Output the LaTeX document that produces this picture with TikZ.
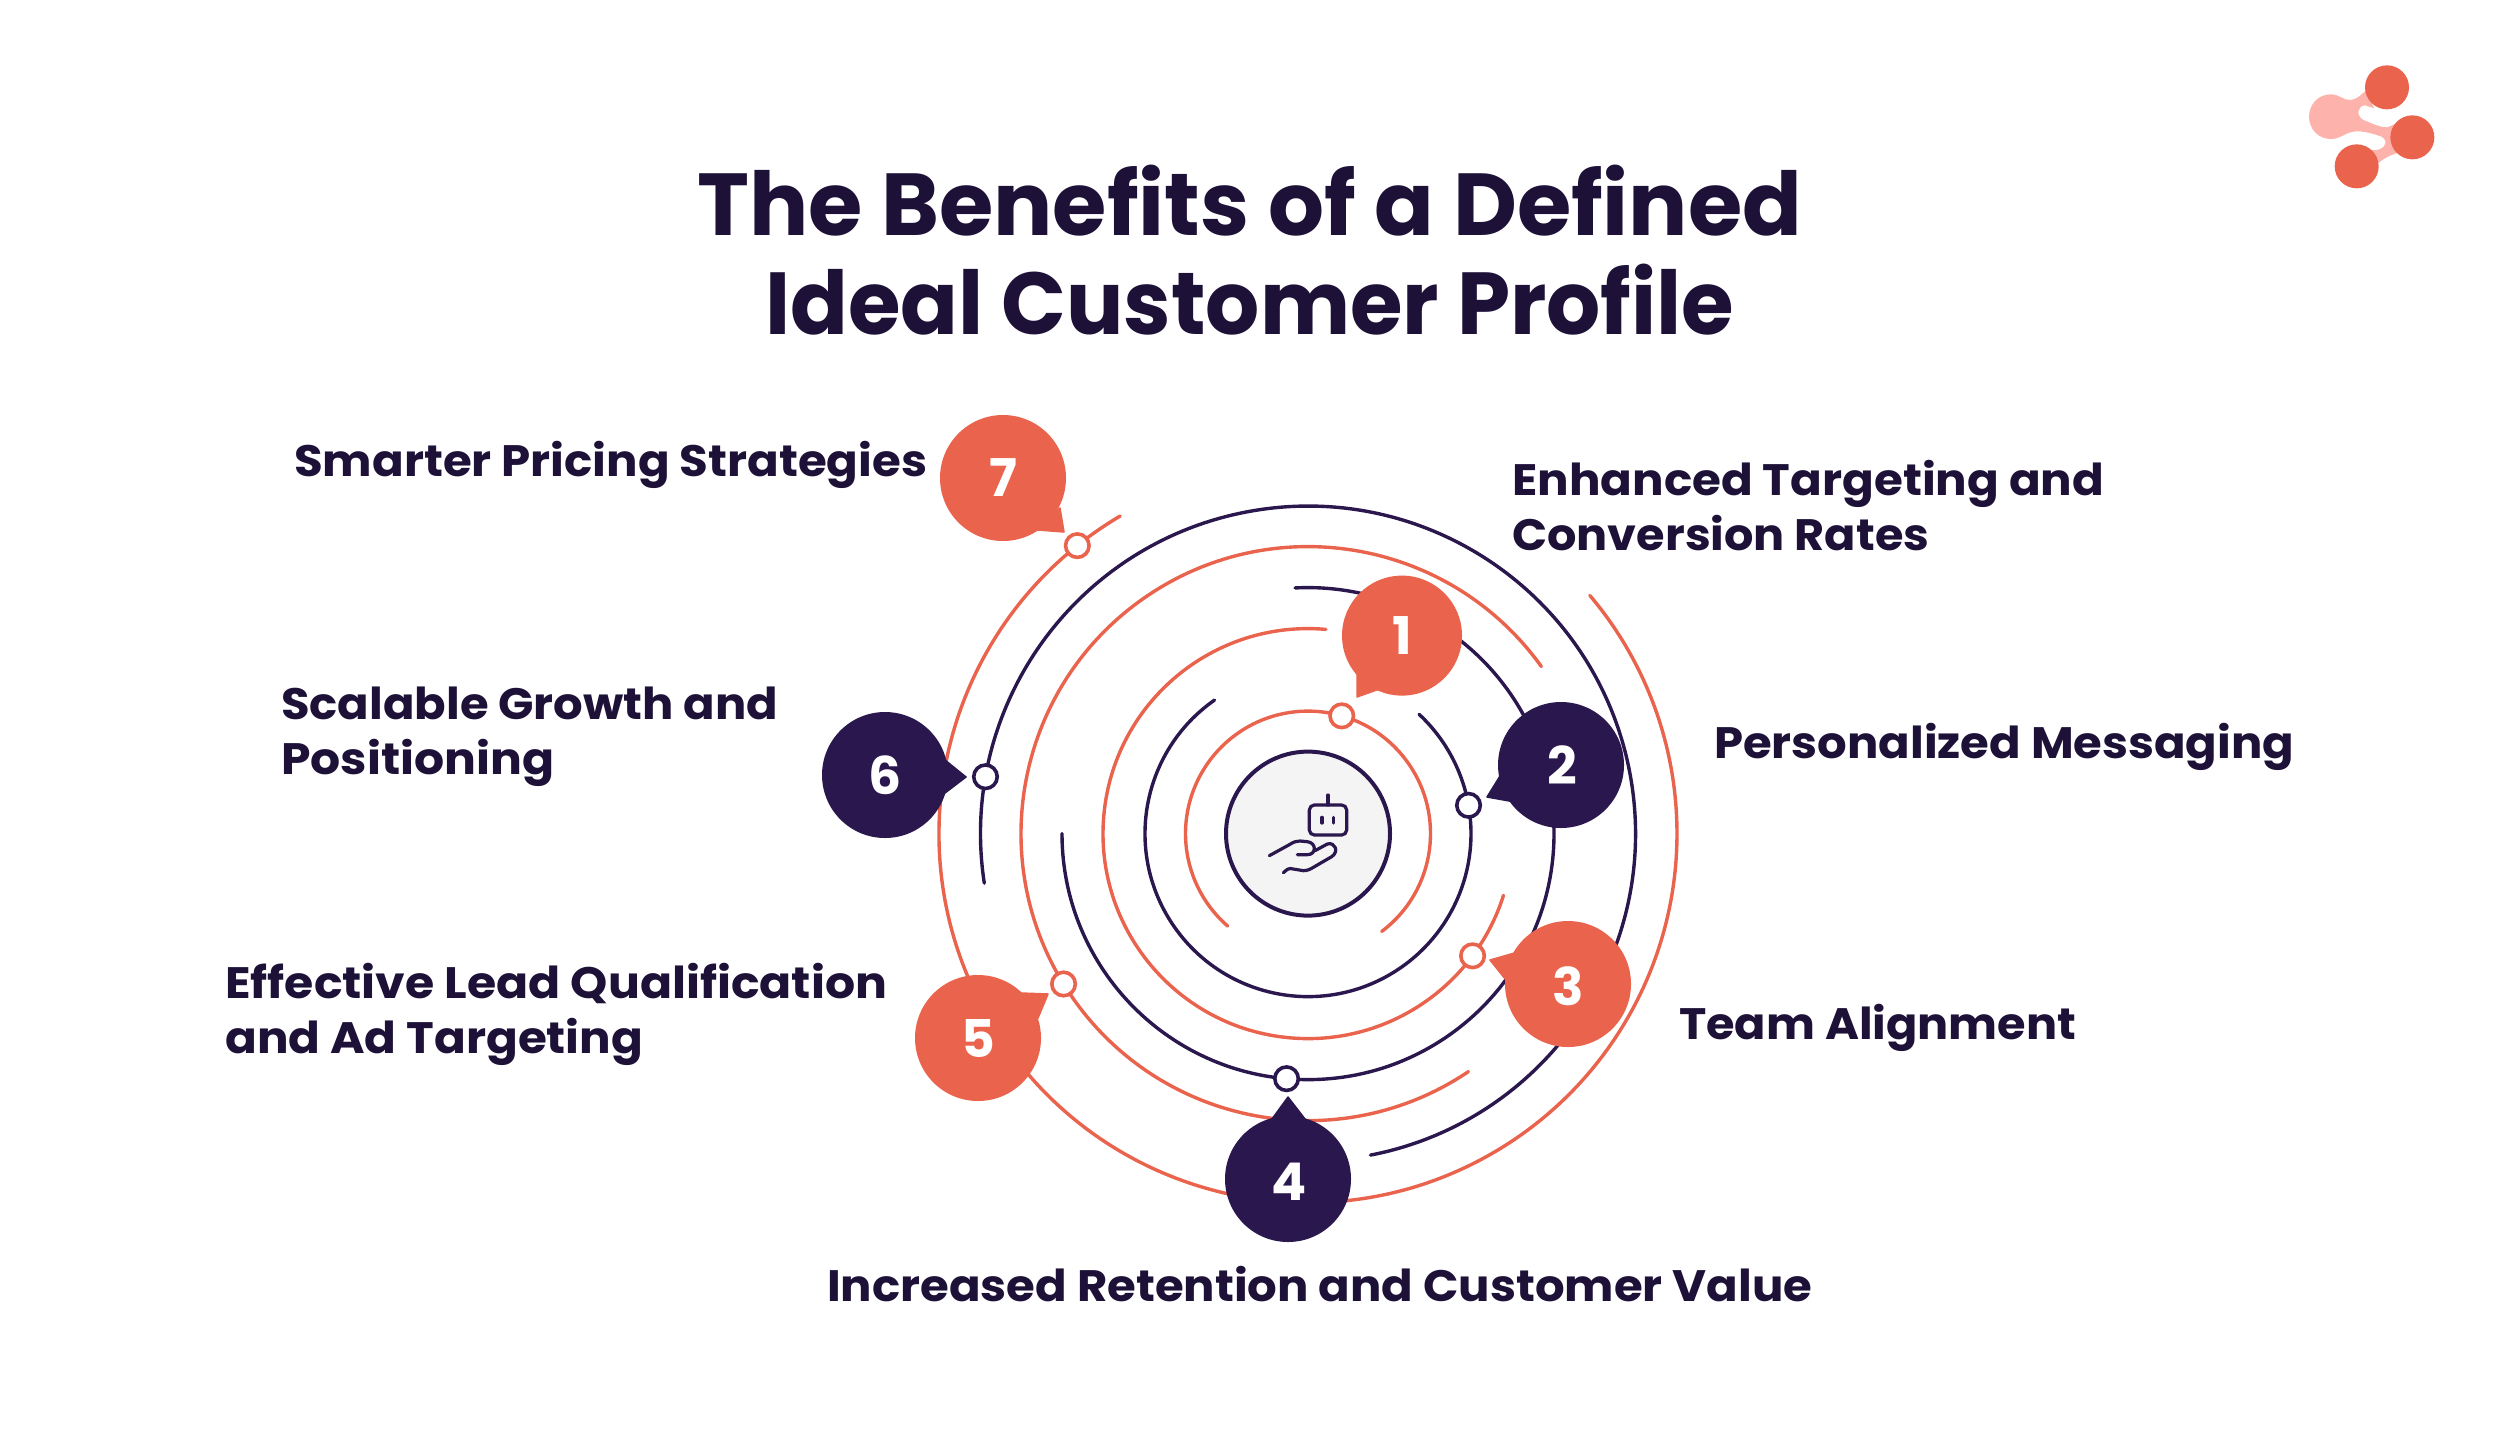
\documentclass[tikz,border=0pt]{standalone}
\usepackage{fontspec}
\usepackage{graphicx}
\setmainfont{Poppins}
\usetikzlibrary{calc}
\definecolor{coral}{HTML}{EA634C}
\definecolor{navy}{HTML}{2A174D}
\definecolor{ink}{HTML}{1E1138}
\definecolor{pinkish}{HTML}{FDB3AB}
\definecolor{hub}{HTML}{F4F4F4}
\newcommand{\fw}[2]{\resizebox{#1pt}{\height}{#2}}
\newcommand{\twol}[5]{\vtop{\baselineskip=#5pt\lineskiplimit=-1000pt\lineskip=0pt\hbox{\fw{#1}{#2}}\hbox{\fw{#3}{#4}}}}
\tikzset{
  ringline/.style={line width=3.4pt,line cap=round},
  bub/.style={circle,minimum size=126pt,inner sep=0pt,text=white,font=\fontsize{52}{52}\selectfont\bfseries},
  tail/.style={line join=round,line width=1.5pt},
  dot/.style={circle,draw,fill=white,line width=3.6pt,minimum size=23.5pt,inner sep=0pt},
  lbl/.style={anchor=base west,inner sep=0pt,text=ink,font=\fontsize{44}{44}\selectfont\bfseries},
  icon/.style={navy,line width=3.2pt,line cap=round,line join=round}
}
% #1 colour, #2 radius, #3 start, #4 end
\newcommand{\ring}[4]{\draw[ringline,#1] ($(c)+(#3:#2pt)$) arc[start angle=#3,end angle=#4,radius=#2pt];}
\begin{document}
\begin{tikzpicture}[x=1pt,y=1pt]
\useasboundingbox (0,0) rectangle (2500,-1436);
\fill[white] (0,0) rectangle (2500,-1436);
\coordinate (c) at (1308,-833.6);

% rings
\ring{coral}{122.5}{-53}{229}
\ring{navy}{163}{125}{407}
\ring{coral}{205}{85}{342.5}
\ring{navy}{246}{180}{453}
\ring{coral}{287}{35.6}{304}
\ring{navy}{327.5}{-79}{188.7}
\ring{coral}{369}{120.6}{400.2}

% hub
\node[circle,draw=navy,fill=hub,line width=4pt,minimum size=164pt,inner sep=0pt] (hubc) at (c) {};

% icon
\begin{scope}[shift={(1200pt,-760pt)},x=.33333pt,y=-.33333pt]
  \draw[icon,rounded corners=5pt] (328,135) rectangle (440,225);
  \draw[icon] (384,105) -- (384,135);
  \draw[icon] (366,172) -- (366,189);
  \draw[icon] (401,172) -- (401,189);
  \draw[icon] (208,287) -- (268,254) .. controls (282,245) and (290,243) .. (300,243)
     -- (322,245) .. controls (350,248) and (350,284) .. (322,284) -- (292,284);
  \draw[icon] (250,338) -- (262,328) .. controls (268,324) and (272,326) .. (280,327)
     -- (310,332) .. controls (322,332) and (330,328) .. (340,322) -- (395,290)
     .. controls (418,275) and (405,245) .. (382,252) -- (345,272);
\end{scope}

% speech bubble tails
\begin{scope}[y=-1pt]
\fill[coral,draw=coral,tail] (1357,675) -- (1357,697) -- (1385,687) -- cycle;
\fill[navy,draw=navy,tail] (1500,776) -- (1487,797) -- (1515,802) -- cycle;
\fill[coral,draw=coral,tail] (1518,952) -- (1490,960) -- (1510,985) -- cycle;
\fill[navy,draw=navy,tail] (1272,1119) -- (1288,1097) -- (1305,1119) -- cycle;
\fill[coral,draw=coral,tail] (1021,993) -- (1048,994) -- (1038,1018) -- cycle;
\fill[navy,draw=navy,tail] (945,760) -- (966,777) -- (945,793) -- cycle;
\fill[coral,draw=coral,tail] (1060,508) -- (1064,532) -- (1038,530) -- cycle;
\end{scope}

% bubbles
\node[bub,fill=coral,minimum size=120pt] (n1) at (1402,-635.6) {1};
\node[bub,fill=navy]  (n2) at (1561,-765) {\hspace{2pt}2};
\node[bub,fill=coral,text height=42.5pt] (n3) at (1568,-984) {3};
\node[bub,fill=navy,text height=42.5pt]  (n4) at (1288,-1179) {\hspace{2pt}4};
\node[bub,fill=coral] (n5) at (978,-1038) {5};
\node[bub,fill=navy]  (n6) at (885,-775) {6};
\node[bub,fill=coral] (n7) at (1003,-478) {7};

% ring markers
\node[dot,draw=coral] (d1) at ($(c)+(74:122.5pt)$) {};
\node[dot,draw=navy]  (d2) at ($(c)+(10:163pt)$) {};
\node[dot,draw=coral] (d3) at ($(c)+(-36.6:205pt)$) {};
\node[dot,draw=navy]  (d4) at ($(c)+(265:246pt)$) {};
\node[dot,draw=coral] (d5) at ($(c)+(211.6:287pt)$) {};
\node[dot,draw=navy]  (d6) at ($(c)+(170:327.5pt)$) {};
\node[dot,draw=coral] (d7) at ($(c)+(128.7:369pt)$) {};

% labels
\node[lbl,font=\fontsize{88}{88}\selectfont\bfseries] (title) at (697,-235) {\vtop{\baselineskip=99pt\lineskiplimit=-1000pt\lineskip=0pt\hbox to 1105pt{\hss\fw{1105}{The Benefits of a Defined}\hss}\hbox to 1105pt{\hss\fw{969}{Ideal Customer Profile}\hss}}};
\node[lbl] (t7) at (294,-476) {\fw{633}{Smarter Pricing Strategies}};
\node[lbl] (t1) at (1512,-495) {\twol{592}{Enhanced Targeting and}{417}{Conversion Rates}{55}};
\node[lbl] (t2) at (1714,-758) {\fw{580}{Personalized Messaging}};
\node[lbl] (t3) at (1679,-1039) {\fw{397}{Team Alignment}};
\node[lbl] (t4) at (827,-1301) {\fw{985}{Increased Retention and Customer Value}};
\node[lbl] (t5) at (225,-998) {\twol{662}{Effective Lead Qualification}{418}{and Ad Targeting}{55}};
\node[lbl] (t6) at (281,-719) {\twol{497}{Scalable Growth and}{273}{Positioning}{55}};

% logo
\begin{scope}[shift={(2280pt,-40pt)},x=.33333pt,y=-.33333pt]
  \fill[pinkish] (152,163) .. controls (180,163) and (190,182) .. (212,180)
     .. controls (232,178) and (245,162) .. (260,150) -- (282,205) -- (255,196)
     .. controls (235,196) and (225,225) .. (250,240) .. controls (280,252) and (300,262) .. (322,262)
     -- (345,252) -- (350,340) .. controls (330,345) and (312,355) .. (296,368) -- (275,330)
     .. controls (310,335) and (330,305) .. (305,290) .. controls (270,278) and (240,270) .. (215,276)
     .. controls (190,282) and (180,297) .. (152,297)
     .. controls (115,297) and (87,267) .. (87,230) .. controls (87,193) and (115,163) .. (152,163) -- cycle;
  \fill[coral] (321,142) circle[radius=66];
  \fill[coral] (397,292) circle[radius=66];
  \fill[coral] (230,379) circle[radius=66];
\end{scope}
\end{tikzpicture}
\end{document}
